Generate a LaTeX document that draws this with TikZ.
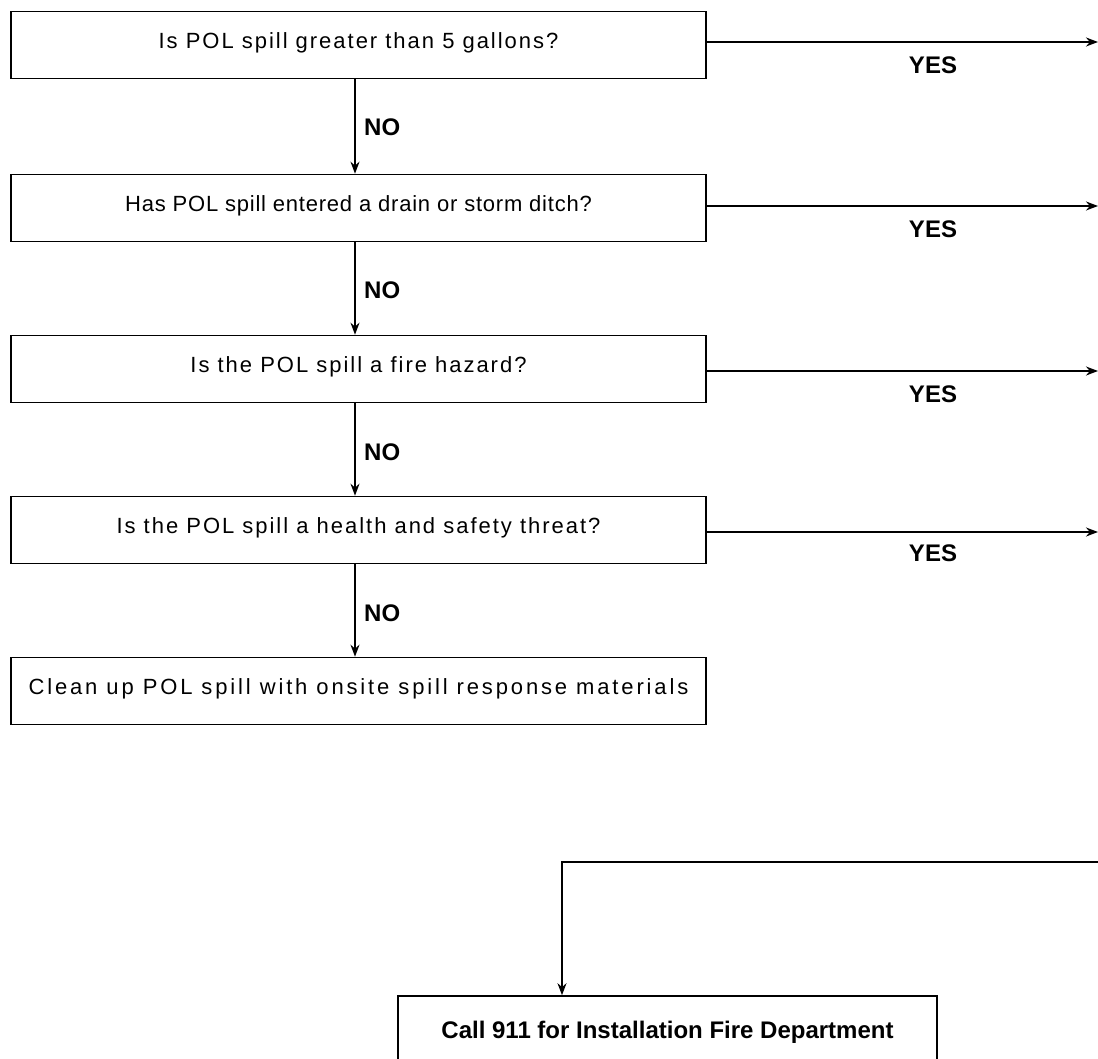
\documentclass[tikz,border=0pt]{standalone}
\usepackage{fontspec}
\setmainfont{Liberation Sans}
\newfontfamily\boxfont[LetterSpace=9]{Liberation Sans}
\newfontfamily\boxfonttight[LetterSpace=3.5]{Liberation Sans}
\newfontfamily\boxfontwide[LetterSpace=13]{Liberation Sans}
\usetikzlibrary{arrows.meta}
\begin{document}
\begin{tikzpicture}[x=1pt,y=-1pt,
  qbox/.style={draw, line width=1.6pt, minimum width=695pt, minimum height=67pt,
    inner sep=0pt, text height=15pt, text depth=8pt,
    font=\boxfont\fontsize{22}{26}\selectfont},
  callbox/.style={draw, line width=1.6pt, minimum width=539pt, minimum height=72pt,
    inner sep=0pt, font=\bfseries\fontsize{24}{28}\selectfont},
  flow/.style={line width=1.6pt, -{Stealth[length=12pt,width=9pt]}},
  lbl/.style={font=\bfseries\fontsize{24}{28}\selectfont, inner sep=0pt}]
\useasboundingbox (0,0) rectangle (1098,1059);
\clip (0,0) rectangle (1098,1059);
\fill[white] (0,0) rectangle (1098,1059);

\node[qbox] (q1) at (358.5,45) {Is POL spill greater than 5 gallons?};
\node[qbox, font=\boxfonttight\fontsize{22}{26}\selectfont] (q2) at (358.5,208) {Has POL spill entered a drain or storm ditch?};
\node[qbox] (q3) at (358.5,369) {Is the POL spill a fire hazard?};
\node[qbox] (q4) at (358.5,530) {Is the POL spill a health and safety threat?};
\node[qbox, font=\boxfontwide\fontsize{22}{26}\selectfont] (q5) at (358.5,691) {Clean up POL spill with onsite spill response materials};
\node[callbox] (call) at (667.5,1032) {Call 911 for Installation Fire Department};

% NO connectors
\draw[flow] ([xshift=-3.5pt]q1.south) -- ([xshift=-3.5pt]q2.north);
\draw[flow] ([xshift=-3.5pt]q2.south) -- ([xshift=-3.5pt]q3.north);
\draw[flow] ([xshift=-3.5pt]q3.south) -- ([xshift=-3.5pt]q4.north);
\draw[flow] ([xshift=-3.5pt]q4.south) -- ([xshift=-3.5pt]q5.north);
\node[lbl, anchor=west] (no1) at (364,127) {NO};
\node[lbl, anchor=west] (no2) at (364,290) {NO};
\node[lbl, anchor=west] (no3) at (364,452) {NO};
\node[lbl, anchor=west] (no4) at (364,613) {NO};

% YES connectors
\coordinate (e1) at (1098,42);
\coordinate (e2) at (1098,206);
\coordinate (e3) at (1098,371);
\coordinate (e4) at (1098,532);
\draw[flow] (q1.east |- e1) -- (e1);
\draw[flow] (q2.east |- e2) -- (e2);
\draw[flow] (q3.east |- e3) -- (e3);
\draw[flow] (q4.east |- e4) -- (e4);
\node[lbl] (yes1) at (933,65) {YES};
\node[lbl] (yes2) at (933,229) {YES};
\node[lbl] (yes3) at (933,394) {YES};
\node[lbl] (yes4) at (933,553) {YES};

% bottom connector
\coordinate (r5) at (1098,862);
\coordinate (bend) at (562,862);
\draw[flow] (r5) -- (bend) -- (bend |- call.north);
\end{tikzpicture}
\end{document}
